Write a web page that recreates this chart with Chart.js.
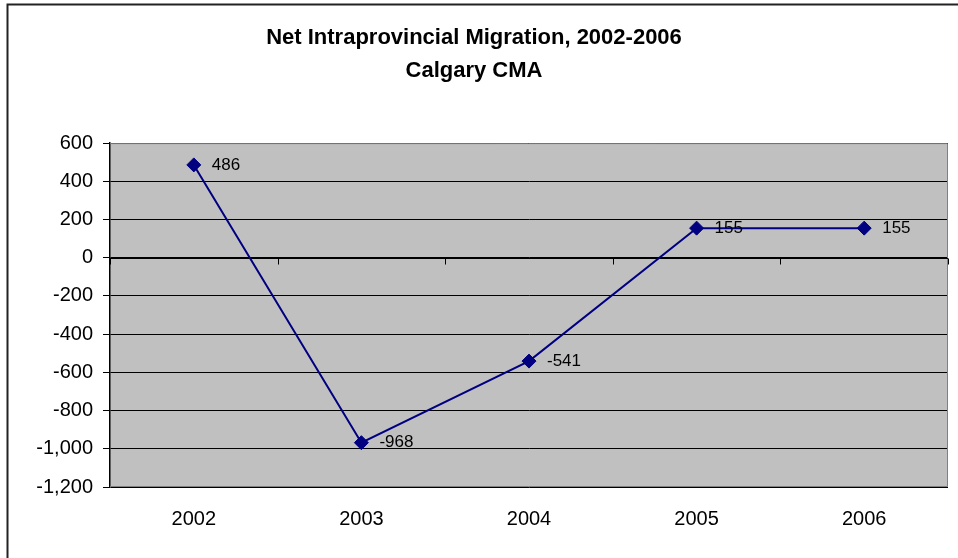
<!DOCTYPE html>
<html>
<head>
<meta charset="utf-8">
<script src="https://cdn.jsdelivr.net/npm/chart.js@4"></script>
<style>
  html, body { margin: 0; padding: 0; background: #fff; }
  #wrap { width: 958px; height: 558px; position: relative; }
</style>
</head>
<body>
<div id="wrap"><canvas id="chart"></canvas></div>
<script>
// Данные графика
const years = ["2002", "2003", "2004", "2005", "2006"];
const migration = [486, -968, -541, 155, 155];
const titleLines = ["Net Intraprovincial Migration, 2002-2006", "Calgary CMA"];
const yMin = -1200;
const yMax = 600;
const yStep = 200;

const FONT = "'Liberation Sans', Arial, sans-serif";

// Рамка всей картинки, серый фон области построения
const backdrop = {
  id: "backdrop",
  beforeDraw(chart) {
    const { ctx, chartArea: a } = chart;
    ctx.save();
    ctx.fillStyle = "#ffffff";
    ctx.fillRect(0, 0, chart.width, chart.height);
    ctx.fillStyle = "#c0c0c0";
    ctx.fillRect(a.left, a.top, a.right - a.left, a.bottom - a.top);
    ctx.strokeStyle = "#222";
    ctx.lineWidth = 2;
    ctx.beginPath();
    ctx.moveTo(7.5, chart.height);
    ctx.lineTo(7.5, 4.5);
    ctx.lineTo(chart.width, 4.5);
    ctx.stroke();
    ctx.restore();
  },
  beforeDatasetsDraw(chart) {
    const { ctx, chartArea: a, scales } = chart;
    ctx.save();
    // серая рамка области построения
    ctx.strokeStyle = "#808080";
    ctx.lineWidth = 1;
    ctx.beginPath();
    ctx.moveTo(a.left, a.top + 0.5);
    ctx.lineTo(a.right - 0.5, a.top + 0.5);
    ctx.lineTo(a.right - 0.5, a.bottom - 0.5);
    ctx.lineTo(a.left, a.bottom - 0.5);
    ctx.stroke();
    // ось категорий проходит через ноль, засечки между категориями
    const y0 = Math.round(scales.y.getPixelForValue(0)) + 0.5;
    ctx.strokeStyle = "#000";
    ctx.beginPath();
    ctx.moveTo(a.left, y0);
    ctx.lineTo(a.right, y0);
    for (let i = 0; i <= years.length; i++) {
      const x = Math.round(scales.x.getPixelForValue(i - 0.5)) + 0.5;
      ctx.moveTo(x, y0);
      ctx.lineTo(x, y0 + 6);
    }
    ctx.stroke();
    ctx.restore();
  },
  afterDatasetsDraw(chart) {
    // подписи значений справа от точек
    const { ctx } = chart;
    const meta = chart.getDatasetMeta(0);
    ctx.save();
    ctx.font = "17px " + FONT;
    ctx.fillStyle = "#000";
    ctx.textAlign = "left";
    ctx.textBaseline = "middle";
    meta.data.forEach((pt, i) => {
      ctx.fillText(String(migration[i]), pt.x + 18, pt.y);
    });
    ctx.restore();
  },
};

new Chart(document.getElementById("chart"), {
  type: "line",
  data: {
    labels: years,
    datasets: [
      {
        data: migration,
        borderColor: "#000080",
        borderWidth: 2,
        backgroundColor: "#000080",
        pointStyle: "rectRot",
        pointRadius: 7,
        pointBorderWidth: 1,
        pointBorderColor: "#000080",
        pointBackgroundColor: "#000080",
        tension: 0,
      },
    ],
  },
  options: {
    responsive: true,
    maintainAspectRatio: false,
    animation: false,
    events: [],
    layout: { padding: { left: 0, right: 10, top: 0, bottom: 0 } },
    plugins: {
      legend: { display: false },
      tooltip: { enabled: false },
      title: {
        display: true,
        text: titleLines,
        color: "#000",
        font: { family: FONT, size: 22, weight: "bold", lineHeight: 1.48 },
        padding: { top: 22, bottom: 56 },
      },
    },
    scales: {
      x: {
        type: "category",
        offset: true,
        grid: { display: false, drawTicks: false },
        border: { display: false },
        ticks: {
          color: "#000",
          font: { family: FONT, size: 20 },
          padding: 20,
          maxRotation: 0,
        },
        afterFit(s) { s.height = 71; },
      },
      y: {
        min: yMin,
        max: yMax,
        grid: { color: "#000", lineWidth: 1, tickLength: 7, drawTicks: true },
        border: { color: "#000", width: 1.5 },
        ticks: {
          stepSize: yStep,
          color: "#000",
          font: { family: FONT, size: 20 },
          padding: 10,
          callback: (v) => Number(v).toLocaleString("en-US"),
        },
        afterFit(s) { s.width = 110; },
      },
    },
  },
  plugins: [backdrop],
});
</script>
</body>
</html>
